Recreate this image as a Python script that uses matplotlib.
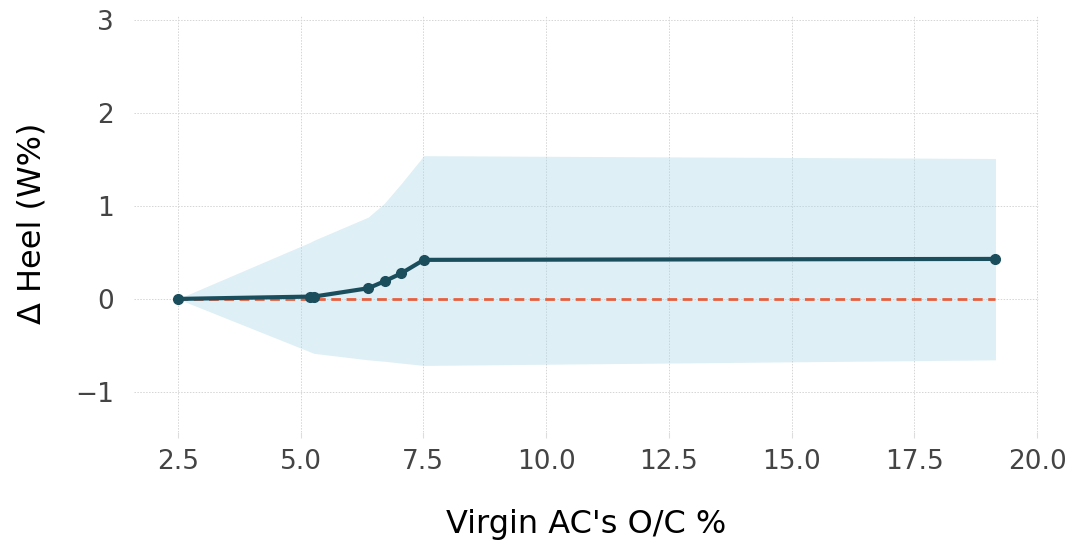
import numpy as np
import matplotlib
matplotlib.use("Agg")
import matplotlib.pyplot as plt

# values
oc_pct = [2.5, 5.2, 5.27, 6.38, 6.71, 7.05, 7.51, 19.15]
delta_heel = [0.0, 0.025, 0.025, 0.115, 0.19, 0.275, 0.42, 0.43]
band_upper = [0.0, 0.61, 0.63, 0.88, 1.03, 1.24, 1.54, 1.51]
band_lower = [0.0, -0.57, -0.585, -0.655, -0.67, -0.69, -0.715, -0.655]
baseline = [0.0] * len(oc_pct)

xticks = [2.5, 5.0, 7.5, 10.0, 12.5, 15.0, 17.5, 20.0]
yticks = [-1, 0, 1, 2, 3]

fig = plt.figure(figsize=(10.73, 5.44), dpi=100)
ax = fig.add_axes([0.1245, 0.206, 0.8435, 0.766])

ax.fill_between(oc_pct, band_lower, band_upper, color="#add8e6", alpha=0.4, linewidth=0)
ax.plot(oc_pct, baseline, color="#e6603f", linewidth=2, dashes=(3.5, 2), zorder=3)
ax.plot(oc_pct, delta_heel, color="#1b4e5d", linewidth=3, marker="o", markersize=7, zorder=4)

ax.set_xlim(1.6, 20.03)
ax.set_ylim(-1.43, 3.05)
ax.set_xticks(xticks)
ax.set_yticks(yticks)

ax.grid(True, linestyle=(0, (1.5, 1.5)), color="#d5d5d5", linewidth=0.7)
ax.set_axisbelow(True)
for s in ax.spines.values():
    s.set_visible(False)

ax.tick_params(axis="x", length=4, color="#dddddd", labelsize=19, labelcolor="#444444", pad=8)
ax.tick_params(axis="y", length=0, labelsize=19, labelcolor="#444444", pad=14)

ax.set_xlabel("Virgin AC's O/C %", fontsize=23, labelpad=25)
ax.set_ylabel("Δ Heel (W%)", fontsize=23, labelpad=20)

fig.savefig("out.png", dpi=100)
